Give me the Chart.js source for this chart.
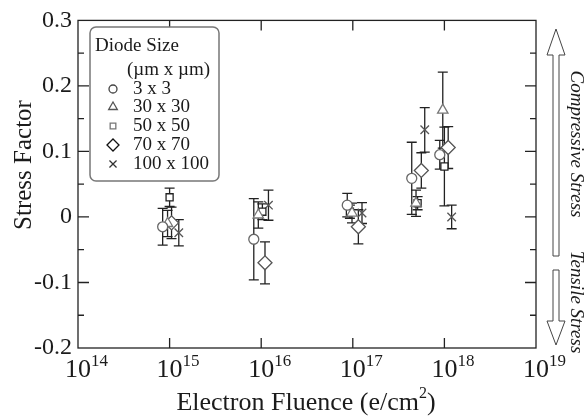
<!DOCTYPE html>
<html>
<head>
<meta charset="utf-8">
<script src="https://cdn.jsdelivr.net/npm/chart.js@4.4.0/dist/chart.umd.min.js"></script>
<style>
  html, body { margin: 0; padding: 0; background: #fff; }
</style>
</head>
<body>
<canvas id="stress-chart" width="586" height="417"></canvas>
<script>
// series labels (diode size)
const seriesNames = ['3 x 3', '30 x 30', '50 x 50', '70 x 70', '100 x 100'];
const xTickPowers = [14, 15, 16, 17, 18, 19];

// fluence (e/cm2), stress factor and error for each diode size
const fluence3 = [8.4e14, 8.3e15, 8.7e16, 4.4e17, 8.9e17];
const stress3 = [-0.015, -0.034, 0.018, 0.059, 0.095];
const err3 = [0.028, 0.062, 0.018, 0.055, 0.022];

const fluence30 = [9.5e14, 9.3e15, 9.8e16, 4.9e17, 9.6e17];
const stress30 = [-0.010, 0.003, 0.006, 0.021, 0.163];
const err30 = [0.020, 0.020, 0.015, 0.020, 0.058];

const fluence50 = [1.0e15, 1.03e16, 9.3e16, 5.1e17, 1.0e18];
const stress50 = [0.030, 0.008, 0.008, 0.021, 0.077];
const err50 = [0.014, 0.012, 0.010, 0.010, 0.060];

const fluence70 = [1.05e15, 1.1e16, 1.15e17, 5.6e17, 1.1e18];
const stress70 = [-0.009, -0.070, -0.015, 0.071, 0.106];
const err70 = [0.024, 0.032, 0.026, 0.027, 0.032];

const fluence100 = [1.26e15, 1.2e16, 1.26e17, 6.1e17, 1.2e18];
const stress100 = [-0.024, 0.018, 0.006, 0.133, 0.000];
const err100 = [0.020, 0.023, 0.016, 0.034, 0.018];

const allFluence = [fluence3, fluence30, fluence50, fluence70, fluence100];
const allStress = [stress3, stress30, stress50, stress70, stress100];
const allErr = [err3, err30, err50, err70, err100];

const markers = [
  { style: 'circle', r: 5, color: '#666', lr: 4, lcolor: '#444' },
  { style: 'triangle', r: 6, color: '#777', lr: 5, lcolor: '#555' },
  { style: 'rect', r: 5, color: '#222', lr: 4, lcolor: '#777' },
  { style: 'rectRot', r: 7, color: '#555', lr: 6, lcolor: '#111' },
  { style: 'crossRot', r: 6, color: '#555', lr: 5, lcolor: '#333' }
];

const SERIF = "'Liberation Serif', 'DejaVu Serif', serif";
const INK = '#1b1b1b';

const datasets = seriesNames.map((name, i) => ({
  label: name,
  data: allFluence[i].map((x, j) => ({ x: x, y: allStress[i][j] })),
  pointStyle: markers[i].style,
  pointRadius: markers[i].r,
  pointBorderWidth: 1.3,
  pointBorderColor: markers[i].color,
  pointBackgroundColor: '#fff',
  showLine: false
}));

function drawMarker(ctx, m, x, y, r, color) {
  ctx.save();
  ctx.strokeStyle = color;
  ctx.fillStyle = '#fff';
  ctx.lineWidth = 1.3;
  Chart.helpers.drawPoint(ctx, { pointStyle: m.style, radius: r, rotation: 0, borderWidth: 1.3 }, x, y);
  ctx.restore();
}

const decorations = {
  id: 'decorations',
  beforeDatasetsDraw(chart) {
    const { ctx, scales: { x, y } } = chart;
    ctx.save();
    ctx.strokeStyle = '#222';
    ctx.lineWidth = 1.3;
    allFluence.forEach((xs, i) => {
      xs.forEach((fx, j) => {
        const px = x.getPixelForValue(fx);
        const top = y.getPixelForValue(allStress[i][j] + allErr[i][j]);
        const bot = y.getPixelForValue(allStress[i][j] - allErr[i][j]);
        ctx.beginPath();
        ctx.moveTo(px, top); ctx.lineTo(px, bot);
        ctx.moveTo(px - 5, top); ctx.lineTo(px + 5, top);
        ctx.moveTo(px - 5, bot); ctx.lineTo(px + 5, bot);
        ctx.stroke();
      });
    });
    ctx.restore();
  },
  afterDraw(chart) {
    const { ctx, chartArea: a, scales: { x, y } } = chart;
    ctx.save();
    // frame
    ctx.strokeStyle = '#222';
    ctx.lineWidth = 1.3;
    ctx.strokeRect(a.left, a.top, a.right - a.left, a.bottom - a.top);
    // ticks
    ctx.beginPath();
    xTickPowers.slice(1, -1).forEach(p => {
      const px = x.getPixelForValue(Math.pow(10, p));
      ctx.moveTo(px, a.bottom); ctx.lineTo(px, a.bottom - 10);
      ctx.moveTo(px, a.top); ctx.lineTo(px, a.top + 10);
    });
    for (let v = -0.15; v < 0.3; v += 0.05) {
      const py = y.getPixelForValue(v);
      const major = Math.abs(Math.round(v * 20)) % 2 === 0;
      const len = major ? 11 : 6;
      ctx.moveTo(a.left, py); ctx.lineTo(a.left + len, py);
      ctx.moveTo(a.right, py); ctx.lineTo(a.right - len, py);
    }
    ctx.stroke();

    // x tick labels 10^n
    ctx.fillStyle = INK;
    ctx.textBaseline = 'alphabetic';
    xTickPowers.forEach(p => {
      const px = x.getPixelForValue(Math.pow(10, p));
      ctx.font = '26px ' + SERIF;
      const w = ctx.measureText('10').width;
      ctx.textAlign = 'left';
      ctx.fillText('10', px - w / 2, 377);
      ctx.font = '17px ' + SERIF;
      ctx.fillText(String(p), px + w / 2, 366);
    });

    // x title
    ctx.font = '26px ' + SERIF;
    const t1 = 'Electron Fluence (e/cm';
    const w1 = ctx.measureText(t1).width;
    ctx.font = '16px ' + SERIF;
    const w2 = ctx.measureText('2').width;
    ctx.font = '26px ' + SERIF;
    const w3 = ctx.measureText(')').width;
    let sx = 306 - (w1 + w2 + w3) / 2;
    ctx.fillText(t1, sx, 410);
    ctx.font = '16px ' + SERIF;
    ctx.fillText('2', sx + w1, 398);
    ctx.font = '26px ' + SERIF;
    ctx.fillText(')', sx + w1 + w2, 410);

    // y title
    ctx.save();
    ctx.translate(31, 165);
    ctx.rotate(-Math.PI / 2);
    ctx.textAlign = 'center';
    ctx.font = '25px ' + SERIF;
    ctx.fillText('Stress Factor', 0, 0);
    ctx.restore();

    // legend box
    ctx.beginPath();
    ctx.roundRect(90, 27, 129, 154, 6);
    ctx.fillStyle = '#fff';
    ctx.fill();
    ctx.strokeStyle = '#777';
    ctx.lineWidth = 1.5;
    ctx.stroke();
    ctx.fillStyle = INK;
    ctx.font = '19px ' + SERIF;
    ctx.textAlign = 'left';
    ctx.textBaseline = 'middle';
    ctx.fillText('Diode Size', 95, 46);
    ctx.fillText('(\u00b5m x \u00b5m)', 127, 70);
    const rows = [89, 107, 126, 145, 164];
    seriesNames.forEach((name, i) => {
      drawMarker(ctx, markers[i], 113, rows[i], markers[i].lr, markers[i].lcolor);
      ctx.fillStyle = INK;
      ctx.fillText(name, 133, rows[i]);
    });

    // stress direction arrows
    ctx.strokeStyle = '#444';
    ctx.lineWidth = 1;
    ctx.beginPath();
    ctx.moveTo(556, 29); ctx.lineTo(565, 55); ctx.lineTo(559, 55); ctx.lineTo(559, 256);
    ctx.lineTo(553, 256); ctx.lineTo(553, 55); ctx.lineTo(547, 55); ctx.closePath();
    ctx.stroke();
    ctx.beginPath();
    ctx.moveTo(553, 270); ctx.lineTo(559, 270); ctx.lineTo(559, 321); ctx.lineTo(565, 321);
    ctx.lineTo(556, 345); ctx.lineTo(547, 321); ctx.lineTo(553, 321); ctx.closePath();
    ctx.stroke();

    ctx.fillStyle = INK;
    ctx.font = 'italic 19px ' + SERIF;
    ctx.textAlign = 'center';
    ctx.textBaseline = 'middle';
    [['Compressive Stress', 144], ['Tensile Stress', 302]].forEach(([txt, cy]) => {
      ctx.save();
      ctx.translate(576, cy);
      ctx.rotate(Math.PI / 2);
      ctx.fillText(txt, 0, 0);
      ctx.restore();
    });
    ctx.restore();
  }
};

const ctx = document.getElementById('stress-chart').getContext('2d');

const stressChart = new Chart(ctx, {
  type: 'scatter',
  data: { datasets: datasets },
  options: {
    responsive: false,
    animation: false,
    layout: { padding: { top: 18, right: 50, left: 0, bottom: 0 } },
    plugins: {
      legend: { display: false },
      tooltip: { enabled: false }
    },
    scales: {
      x: {
        type: 'logarithmic',
        min: 1e14,
        max: 1e19,
        ticks: { display: false },
        grid: { display: false, drawTicks: false },
        border: { display: false },
        afterFit: s => { s.height = 69; }
      },
      y: {
        min: -0.2,
        max: 0.3,
        ticks: {
          stepSize: 0.1,
          padding: 6,
          color: INK,
          font: { family: SERIF, size: 24 },
          callback: v => (Math.abs(v) < 1e-9 ? '0' : v.toFixed(1))
        },
        grid: { display: false, drawTicks: false },
        border: { display: false },
        afterFit: s => { s.width = 78; }
      }
    }
  },
  plugins: [decorations]
});
</script>
</body>
</html>
